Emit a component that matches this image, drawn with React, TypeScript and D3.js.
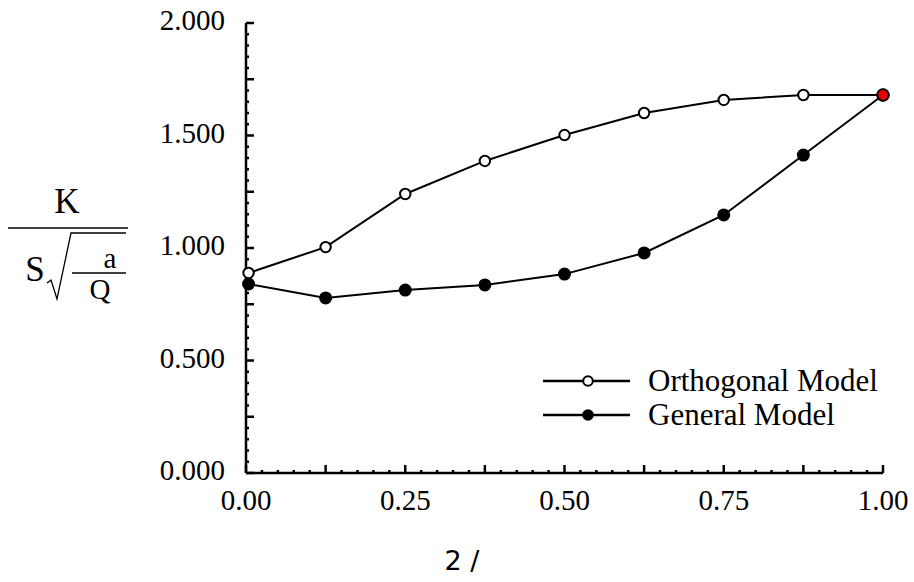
import React from "react";
import * as d3 from "d3";

// Normalised position along the span
const xValues = [0.004, 0.125, 0.25, 0.375, 0.5, 0.625, 0.75, 0.875, 1.0];
// Orthogonal model response
const orthogonal = [0.889, 1.004, 1.24, 1.387, 1.502, 1.6, 1.658, 1.68, 1.68];
// General model response
const general = [0.84, 0.778, 0.813, 0.836, 0.884, 0.978, 1.147, 1.413, 1.68];

const xTickLabels = ["0.00", "0.25", "0.50", "0.75", "1.00"];
const yTickLabels = ["0.000", "0.500", "1.000", "1.500", "2.000"];
const seriesNames = ["Orthogonal Model", "General Model"];

const W = 914;
const H = 582;
const left = 246;
const right = 883;
const top = 23;
const bottom = 473;
const serif = "'Liberation Serif', 'Times New Roman', serif";

export default function App() {
  React.useEffect(() => {
    document.body.style.margin = "0";
    document.body.style.overflow = "hidden";
  }, []);

  const x = d3.scaleLinear().domain([0, 1]).range([left, right]);
  const y = d3.scaleLinear().domain([0, 2]).range([bottom, top]);
  const line = d3
    .line<number>()
    .x((_, i) => x(xValues[i]))
    .y((d) => y(d));

  const xMinor = d3.range(0, 41).map((i) => i * 0.025);
  const yMinor = d3.range(0, 41).map((i) => i * 0.05);
  const isMajorX = (v: number) => Math.abs(v / 0.125 - Math.round(v / 0.125)) < 1e-6;
  const isMajorY = (v: number) => Math.abs(v / 0.25 - Math.round(v / 0.25)) < 1e-6;

  const legendX = 543;
  const legendY = [381, 415];

  return (
    <svg width={W} height={H} style={{ display: "block", background: "#fff" }}>
      {/* axes */}
      <g stroke="#000" strokeWidth={2.5} fill="none">
        <line x1={left} x2={left} y1={top} y2={bottom} />
        <line x1={left} x2={right} y1={bottom} y2={bottom} />
        {xMinor.map((v, i) => (
          <line key={"xt" + i} x1={x(v)} x2={x(v)} y1={bottom} y2={bottom - (isMajorX(v) ? 8 : 3)} />
        ))}
        {yMinor.map((v, i) => (
          <line key={"yt" + i} x1={left} x2={left + (isMajorY(v) ? 8 : 3)} y1={y(v)} y2={y(v)} />
        ))}
      </g>
      <g fontFamily={serif} fontSize={29} fill="#000">
        {xTickLabels.map((t) => (
          <text key={t} x={x(+t)} y={bottom + 37} textAnchor="middle">
            {t}
          </text>
        ))}
        {yTickLabels.map((t) => (
          <text key={t} x={225} y={y(+t) + 7} textAnchor="end">
            {t}
          </text>
        ))}
      </g>

      {/* series */}
      <path d={line(orthogonal) || ""} fill="none" stroke="#000" strokeWidth={2} />
      <path d={line(general) || ""} fill="none" stroke="#000" strokeWidth={2} />
      {orthogonal.map((v, i) => (
        <circle key={"o" + i} cx={x(xValues[i])} cy={y(v)} r={5.2} fill="#fff" stroke="#000" strokeWidth={2} />
      ))}
      {general.map((v, i) => (
        <circle key={"g" + i} cx={x(xValues[i])} cy={y(v)} r={6.5} fill="#000" />
      ))}
      <circle cx={x(xValues[8])} cy={y(orthogonal[8])} r={5.8} fill="#e00000" stroke="#000" strokeWidth={1.8} />

      {/* legend */}
      {seriesNames.map((name, i) => (
        <g key={name}>
          <line x1={legendX} x2={legendX + 87} y1={legendY[i]} y2={legendY[i]} stroke="#000" strokeWidth={2.5} />
          {i === 0 ? (
            <circle cx={legendX + 45} cy={legendY[i]} r={4.8} fill="#fff" stroke="#000" strokeWidth={2} />
          ) : (
            <circle cx={legendX + 45} cy={legendY[i]} r={5.8} fill="#000" />
          )}
          <text x={648} y={legendY[i] + 10} fontFamily={serif} fontSize={31}>
            {name}
          </text>
        </g>
      ))}

      {/* y-axis label: K over S·sqrt(a/Q) */}
      <g fontFamily={serif} fill="#000">
        <text x={67} y={213} fontSize={35} textAnchor="middle">K</text>
        <line x1={8} x2={128} y1={228} y2={228} stroke="#000" strokeWidth={1.5} />
        <text x={35} y={281} fontSize={35} textAnchor="middle">S</text>
        <path d="M47,283 L51,280 L57,299 L71,233 L126,233" fill="none" stroke="#000" strokeWidth={1.3} />
        <text x={110} y={268} fontSize={29} textAnchor="middle">a</text>
        <line x1={72} x2={126} y1={273} y2={273} stroke="#000" strokeWidth={1.3} />
        <text x={100} y={299} fontSize={29} textAnchor="middle">Q</text>
      </g>

      {/* x-axis label */}
      <text x={462} y={570} fontFamily="'DejaVu Sans', sans-serif" fontSize={27} textAnchor="middle">
        2 /
      </text>
    </svg>
  );
}
